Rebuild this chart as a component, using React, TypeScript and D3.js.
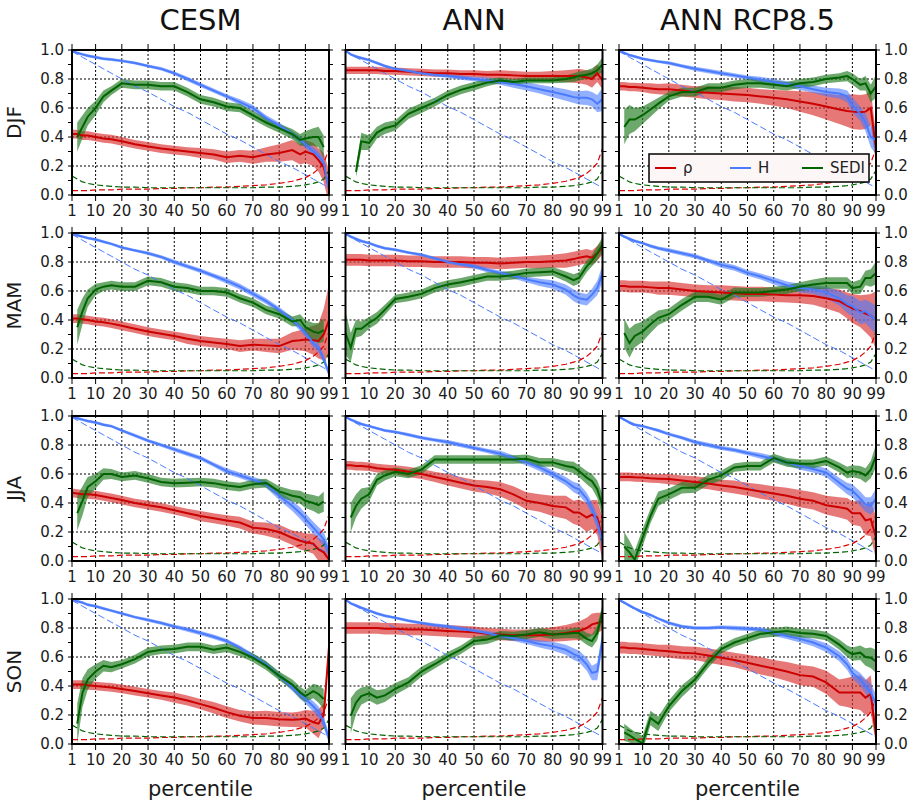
import React from "react";
import * as d3 from "d3";

const _ = null;
const PCT = [1, 3, 5, 7, 10, 13, 16, 20, 25, 30, 35, 40, 45, 50, 55, 60, 65, 70, 75, 80, 85, 88, 90, 93, 95, 97, 99];
const X_TICKS = [1, 10, 20, 30, 40, 50, 60, 70, 80, 90, 99];
const X_GRID = [10, 20, 30, 40, 50, 60, 70, 80, 90];
const Y_TICKS = [0, 0.2, 0.4, 0.6, 0.8, 1.0];
const Y_GRID = [0.2, 0.4, 0.6, 0.8];
const Y_MINOR = [0, 0.1, 0.2, 0.3, 0.4, 0.5, 0.6, 0.7, 0.8, 0.9, 1.0];
const COLUMNS = ["CESM", "ANN", "ANN RCP8.5"];
const ROWS = ["DJF", "MAM", "JJA", "SON"];
const LEGEND = ["ρ", "H", "SEDI"];

// chance baselines (dashed)
const H_CHANCE = [0.99, 0.97, 0.95, 0.93, 0.9, 0.87, 0.84, 0.8, 0.75, 0.71, 0.66, 0.61, 0.57, 0.52, 0.47, 0.42, 0.38, 0.33, 0.28, 0.23, 0.19, 0.16, 0.14, 0.11, 0.09, 0.07, 0.05];
const RHO_CHANCE = [0.03, 0.03, 0.03, 0.03, 0.035, 0.035, 0.035, 0.04, 0.04, 0.04, 0.045, 0.045, 0.05, 0.05, 0.055, 0.055, 0.06, 0.065, 0.07, 0.08, 0.095, 0.11, 0.12, 0.15, 0.18, 0.22, 0.32];
const SEDI_CHANCE = [0.13, 0.11, 0.09, 0.08, 0.07, 0.065, 0.06, 0.055, 0.055, 0.05, 0.05, 0.05, 0.05, 0.05, 0.05, 0.05, 0.05, 0.05, 0.055, 0.055, 0.06, 0.065, 0.07, 0.08, 0.09, 0.11, 0.17];

// DJF CESM
const djfCesmRho = [0.42, 0.42, 0.41, 0.41, 0.4, 0.39, 0.385, 0.37, 0.35, 0.335, 0.32, 0.31, 0.3, 0.29, 0.28, 0.26, 0.27, 0.26, 0.28, 0.29, 0.31, 0.28, 0.3, 0.28, 0.24, 0.19, 0.05];
const djfCesmRhoW = [0.03, 0.03, 0.03, 0.03, 0.03, 0.03, 0.03, 0.03, 0.03, 0.03, 0.03, 0.03, 0.03, 0.035, 0.035, 0.04, 0.04, 0.045, 0.05, 0.06, 0.07, 0.07, 0.08, 0.08, 0.08, 0.1, 0.12];
const djfCesmH = [0.995, 0.98, 0.97, 0.96, 0.95, 0.94, 0.935, 0.925, 0.91, 0.89, 0.87, 0.84, 0.8, 0.76, 0.72, 0.68, 0.64, 0.6, 0.53, 0.48, 0.42, 0.38, 0.35, 0.3, 0.27, 0.22, 0.03];
const djfCesmHW = [0.005, 0.01, 0.01, 0.01, 0.01, 0.01, 0.01, 0.01, 0.01, 0.01, 0.012, 0.012, 0.015, 0.015, 0.015, 0.015, 0.02, 0.02, 0.02, 0.02, 0.02, 0.025, 0.025, 0.03, 0.03, 0.035, 0.03];
const djfCesmSedi = [_, 0.4, 0.47, 0.54, 0.6, 0.68, 0.72, 0.77, 0.76, 0.76, 0.75, 0.75, 0.71, 0.66, 0.64, 0.61, 0.6, 0.55, 0.5, 0.46, 0.42, 0.38, 0.39, 0.4, 0.4, 0.33, _];
const djfCesmSediW = [_, 0.1, 0.08, 0.06, 0.05, 0.04, 0.03, 0.03, 0.03, 0.03, 0.03, 0.03, 0.03, 0.03, 0.03, 0.03, 0.03, 0.03, 0.03, 0.03, 0.035, 0.04, 0.05, 0.06, 0.07, 0.08, _];

// DJF ANN
const djfAnnRho = [0.86, 0.86, 0.86, 0.86, 0.86, 0.86, 0.855, 0.855, 0.85, 0.845, 0.84, 0.84, 0.835, 0.835, 0.83, 0.83, 0.825, 0.82, 0.82, 0.82, 0.82, 0.82, 0.82, 0.81, 0.8, 0.84, 0.79];
const djfAnnRhoW = [0.025, 0.025, 0.025, 0.025, 0.025, 0.025, 0.025, 0.025, 0.025, 0.025, 0.025, 0.025, 0.025, 0.025, 0.025, 0.03, 0.03, 0.03, 0.03, 0.035, 0.04, 0.045, 0.05, 0.05, 0.06, 0.06, 0.06];
const djfAnnH = [0.995, 0.97, 0.955, 0.945, 0.93, 0.91, 0.89, 0.87, 0.855, 0.84, 0.83, 0.82, 0.81, 0.8, 0.79, 0.78, 0.765, 0.75, 0.73, 0.71, 0.69, 0.675, 0.67, 0.67, 0.66, 0.63, 0.66];
const djfAnnHW = [0.005, 0.01, 0.01, 0.01, 0.01, 0.01, 0.01, 0.01, 0.01, 0.01, 0.012, 0.012, 0.015, 0.015, 0.02, 0.02, 0.025, 0.03, 0.03, 0.035, 0.04, 0.04, 0.045, 0.05, 0.05, 0.06, 0.08];
const djfAnnSedi = [_, _, 0.16, 0.37, 0.36, 0.43, 0.46, 0.48, 0.56, 0.6, 0.64, 0.69, 0.725, 0.75, 0.775, 0.79, 0.78, 0.79, 0.79, 0.79, 0.8, 0.81, 0.82, 0.83, 0.84, 0.86, 0.9];
const djfAnnSediW = [_, _, 0.04, 0.06, 0.05, 0.04, 0.04, 0.035, 0.035, 0.035, 0.03, 0.03, 0.03, 0.03, 0.025, 0.02, 0.02, 0.02, 0.02, 0.02, 0.025, 0.03, 0.03, 0.03, 0.035, 0.04, 0.05];

// DJF ANN RCP8.5
const djfRcpRho = [0.75, 0.75, 0.745, 0.745, 0.74, 0.735, 0.73, 0.73, 0.72, 0.71, 0.705, 0.7, 0.695, 0.69, 0.68, 0.67, 0.66, 0.645, 0.63, 0.61, 0.59, 0.58, 0.575, 0.57, 0.575, 0.6, 0.32];
const djfRcpRhoW = [0.03, 0.03, 0.03, 0.03, 0.03, 0.035, 0.035, 0.04, 0.04, 0.04, 0.045, 0.045, 0.05, 0.05, 0.05, 0.055, 0.06, 0.07, 0.08, 0.09, 0.1, 0.11, 0.12, 0.12, 0.12, 0.12, 0.1];
const djfRcpH = [0.995, 0.98, 0.965, 0.955, 0.94, 0.93, 0.92, 0.91, 0.89, 0.87, 0.855, 0.84, 0.825, 0.81, 0.795, 0.78, 0.765, 0.75, 0.73, 0.71, 0.7, 0.68, 0.62, 0.56, 0.5, 0.4, 0.38];
const djfRcpHW = [0.005, 0.01, 0.01, 0.01, 0.01, 0.01, 0.01, 0.012, 0.012, 0.015, 0.015, 0.015, 0.015, 0.015, 0.02, 0.02, 0.02, 0.025, 0.025, 0.03, 0.035, 0.04, 0.05, 0.05, 0.06, 0.07, 0.1];
const djfRcpSedi = [_, 0.47, 0.52, 0.52, 0.55, 0.59, 0.63, 0.68, 0.71, 0.71, 0.74, 0.74, 0.76, 0.77, 0.77, 0.76, 0.75, 0.77, 0.78, 0.8, 0.81, 0.82, 0.8, 0.76, 0.77, 0.7, 0.75];
const djfRcpSediW = [_, 0.12, 0.1, 0.08, 0.06, 0.05, 0.04, 0.03, 0.03, 0.03, 0.03, 0.03, 0.03, 0.03, 0.03, 0.03, 0.03, 0.03, 0.03, 0.03, 0.03, 0.035, 0.04, 0.04, 0.05, 0.06, 0.08];

// MAM CESM
const mamCesmRho = [0.41, 0.41, 0.405, 0.4, 0.39, 0.385, 0.375, 0.36, 0.34, 0.32, 0.305, 0.29, 0.27, 0.255, 0.245, 0.235, 0.22, 0.23, 0.225, 0.22, 0.255, 0.26, 0.265, 0.26, 0.255, 0.3, 0.4];
const mamCesmRhoW = [0.03, 0.03, 0.03, 0.03, 0.03, 0.03, 0.03, 0.03, 0.03, 0.03, 0.03, 0.03, 0.035, 0.035, 0.035, 0.035, 0.04, 0.04, 0.045, 0.05, 0.06, 0.07, 0.08, 0.1, 0.12, 0.18, 0.25];
const mamCesmH = [0.995, 0.985, 0.975, 0.965, 0.955, 0.94, 0.925, 0.9, 0.88, 0.86, 0.835, 0.8, 0.77, 0.74, 0.705, 0.67, 0.63, 0.58, 0.53, 0.47, 0.4, 0.35, 0.31, 0.24, 0.21, 0.13, 0.03];
const mamCesmHW = [0.005, 0.01, 0.01, 0.01, 0.01, 0.01, 0.01, 0.01, 0.01, 0.012, 0.012, 0.015, 0.015, 0.015, 0.015, 0.02, 0.02, 0.02, 0.02, 0.02, 0.02, 0.025, 0.025, 0.03, 0.03, 0.03, 0.02];
const mamCesmSedi = [_, 0.35, 0.46, 0.55, 0.61, 0.63, 0.64, 0.63, 0.63, 0.67, 0.66, 0.63, 0.62, 0.6, 0.6, 0.59, 0.55, 0.52, 0.47, 0.44, 0.39, 0.4, 0.35, 0.32, 0.31, 0.33, _];
const mamCesmSediW = [_, 0.12, 0.09, 0.06, 0.04, 0.03, 0.03, 0.03, 0.03, 0.03, 0.03, 0.03, 0.03, 0.03, 0.03, 0.03, 0.03, 0.03, 0.03, 0.03, 0.035, 0.04, 0.05, 0.06, 0.07, 0.08, _];

// MAM ANN
const mamAnnRho = [0.815, 0.815, 0.815, 0.815, 0.81, 0.81, 0.81, 0.81, 0.805, 0.805, 0.8, 0.8, 0.8, 0.795, 0.795, 0.79, 0.795, 0.8, 0.8, 0.805, 0.81, 0.82, 0.83, 0.84, 0.83, 0.86, 0.9];
const mamAnnRhoW = [0.04, 0.04, 0.04, 0.04, 0.04, 0.04, 0.04, 0.04, 0.04, 0.04, 0.04, 0.04, 0.04, 0.04, 0.04, 0.04, 0.04, 0.04, 0.045, 0.045, 0.05, 0.05, 0.05, 0.05, 0.05, 0.05, 0.05];
const mamAnnH = [0.995, 0.975, 0.96, 0.945, 0.93, 0.91, 0.895, 0.885, 0.865, 0.85, 0.825, 0.8, 0.785, 0.77, 0.745, 0.725, 0.705, 0.68, 0.66, 0.645, 0.61, 0.57, 0.55, 0.54, 0.575, 0.62, 0.72];
const mamAnnHW = [0.005, 0.01, 0.01, 0.01, 0.01, 0.01, 0.01, 0.01, 0.01, 0.01, 0.012, 0.012, 0.012, 0.015, 0.015, 0.015, 0.02, 0.02, 0.025, 0.03, 0.035, 0.04, 0.04, 0.04, 0.04, 0.05, 0.06];
const mamAnnSedi = [0.31, 0.21, 0.34, 0.34, 0.38, 0.415, 0.47, 0.545, 0.56, 0.58, 0.62, 0.645, 0.66, 0.68, 0.7, 0.7, 0.71, 0.725, 0.73, 0.735, 0.7, 0.675, 0.69, 0.77, 0.81, 0.86, 0.92];
const mamAnnSediW = [0.15, 0.1, 0.06, 0.05, 0.04, 0.04, 0.035, 0.03, 0.03, 0.03, 0.03, 0.03, 0.03, 0.03, 0.03, 0.03, 0.03, 0.03, 0.03, 0.03, 0.035, 0.04, 0.04, 0.04, 0.04, 0.05, 0.05];

// MAM ANN RCP8.5
const mamRcpRho = [0.635, 0.635, 0.63, 0.63, 0.63, 0.625, 0.62, 0.62, 0.61, 0.6, 0.595, 0.59, 0.585, 0.58, 0.58, 0.575, 0.57, 0.57, 0.565, 0.55, 0.53, 0.5, 0.48, 0.46, 0.445, 0.43, 0.4];
const mamRcpRhoW = [0.04, 0.04, 0.04, 0.04, 0.04, 0.04, 0.045, 0.045, 0.045, 0.045, 0.045, 0.05, 0.05, 0.05, 0.05, 0.05, 0.05, 0.055, 0.06, 0.07, 0.08, 0.09, 0.1, 0.11, 0.13, 0.15, 0.2];
const mamRcpH = [0.995, 0.975, 0.96, 0.945, 0.93, 0.91, 0.895, 0.88, 0.86, 0.84, 0.81, 0.78, 0.76, 0.725, 0.7, 0.67, 0.64, 0.62, 0.61, 0.59, 0.55, 0.51, 0.495, 0.45, 0.46, 0.43, 0.4];
const mamRcpHW = [0.005, 0.01, 0.01, 0.01, 0.01, 0.012, 0.012, 0.015, 0.015, 0.015, 0.015, 0.02, 0.02, 0.02, 0.02, 0.025, 0.025, 0.03, 0.03, 0.04, 0.05, 0.06, 0.07, 0.08, 0.08, 0.09, 0.1];
const mamRcpSedi = [_, 0.31, 0.24, 0.29, 0.32, 0.37, 0.415, 0.44, 0.505, 0.56, 0.56, 0.54, 0.59, 0.59, 0.59, 0.6, 0.61, 0.63, 0.645, 0.655, 0.655, 0.655, 0.62, 0.63, 0.69, 0.69, 0.725];
const mamRcpSediW = [_, 0.1, 0.1, 0.08, 0.07, 0.06, 0.05, 0.04, 0.04, 0.035, 0.035, 0.035, 0.035, 0.03, 0.03, 0.03, 0.03, 0.03, 0.035, 0.04, 0.04, 0.04, 0.04, 0.05, 0.05, 0.06, 0.08];

// JJA CESM
const jjaCesmRho = [0.47, 0.465, 0.46, 0.46, 0.455, 0.445, 0.435, 0.42, 0.4, 0.385, 0.37, 0.35, 0.33, 0.31, 0.295, 0.28, 0.265, 0.23, 0.22, 0.2, 0.16, 0.14, 0.13, 0.12, 0.08, 0.06, 0.01];
const jjaCesmRhoW = [0.03, 0.03, 0.03, 0.03, 0.03, 0.03, 0.03, 0.03, 0.03, 0.03, 0.03, 0.03, 0.03, 0.035, 0.035, 0.035, 0.04, 0.04, 0.045, 0.05, 0.05, 0.06, 0.06, 0.07, 0.08, 0.08, 0.06];
const jjaCesmH = [0.995, 0.985, 0.975, 0.965, 0.955, 0.94, 0.93, 0.9, 0.865, 0.83, 0.8, 0.77, 0.74, 0.71, 0.665, 0.62, 0.59, 0.56, 0.53, 0.45, 0.38, 0.33, 0.29, 0.23, 0.19, 0.15, 0.06];
const jjaCesmHW = [0.005, 0.01, 0.01, 0.01, 0.01, 0.01, 0.01, 0.01, 0.012, 0.012, 0.012, 0.015, 0.015, 0.015, 0.015, 0.02, 0.02, 0.02, 0.025, 0.03, 0.035, 0.04, 0.04, 0.04, 0.045, 0.05, 0.04];
const jjaCesmSedi = [_, 0.33, 0.415, 0.51, 0.55, 0.6, 0.6, 0.58, 0.59, 0.57, 0.545, 0.537, 0.54, 0.545, 0.537, 0.52, 0.51, 0.53, 0.537, 0.48, 0.45, 0.44, 0.415, 0.4, 0.385, 0.41, _];
const jjaCesmSediW = [_, 0.12, 0.1, 0.07, 0.05, 0.04, 0.035, 0.03, 0.03, 0.03, 0.03, 0.03, 0.03, 0.03, 0.03, 0.03, 0.03, 0.03, 0.03, 0.035, 0.04, 0.045, 0.05, 0.055, 0.06, 0.07, _];

// JJA ANN
const jjaAnnRho = [0.66, 0.66, 0.655, 0.655, 0.65, 0.64, 0.635, 0.63, 0.615, 0.6, 0.58, 0.56, 0.54, 0.52, 0.51, 0.495, 0.46, 0.415, 0.4, 0.38, 0.37, 0.335, 0.335, 0.3, 0.32, 0.3, 0.15];
const jjaAnnRhoW = [0.03, 0.03, 0.03, 0.03, 0.03, 0.03, 0.03, 0.03, 0.035, 0.035, 0.035, 0.04, 0.04, 0.04, 0.045, 0.05, 0.055, 0.06, 0.06, 0.07, 0.08, 0.08, 0.09, 0.1, 0.1, 0.12, 0.15];
const jjaAnnH = [0.995, 0.975, 0.96, 0.945, 0.93, 0.915, 0.9, 0.89, 0.87, 0.85, 0.835, 0.82, 0.8, 0.78, 0.76, 0.74, 0.71, 0.68, 0.645, 0.6, 0.55, 0.51, 0.495, 0.43, 0.36, 0.27, 0.13];
const jjaAnnHW = [0.005, 0.01, 0.01, 0.01, 0.01, 0.01, 0.01, 0.01, 0.012, 0.012, 0.012, 0.015, 0.015, 0.015, 0.015, 0.02, 0.02, 0.02, 0.025, 0.025, 0.03, 0.035, 0.04, 0.04, 0.045, 0.05, 0.05];
const jjaAnnSedi = [_, 0.3, 0.38, 0.43, 0.46, 0.56, 0.59, 0.615, 0.6, 0.63, 0.7, 0.7, 0.7, 0.7, 0.7, 0.7, 0.7, 0.705, 0.68, 0.68, 0.655, 0.645, 0.62, 0.575, 0.55, 0.495, 0.38];
const jjaAnnSediW = [_, 0.1, 0.08, 0.07, 0.05, 0.04, 0.035, 0.03, 0.03, 0.03, 0.03, 0.03, 0.03, 0.03, 0.03, 0.03, 0.03, 0.03, 0.03, 0.03, 0.035, 0.04, 0.04, 0.045, 0.05, 0.06, 0.08];

// JJA ANN RCP8.5
const jjaRcpRho = [0.58, 0.58, 0.58, 0.577, 0.575, 0.57, 0.568, 0.565, 0.555, 0.545, 0.535, 0.52, 0.51, 0.495, 0.48, 0.465, 0.45, 0.43, 0.415, 0.385, 0.37, 0.36, 0.33, 0.33, 0.28, 0.29, 0.16];
const jjaRcpRhoW = [0.03, 0.03, 0.03, 0.03, 0.03, 0.03, 0.03, 0.035, 0.035, 0.04, 0.04, 0.04, 0.045, 0.045, 0.05, 0.05, 0.055, 0.06, 0.06, 0.065, 0.07, 0.075, 0.08, 0.09, 0.1, 0.12, 0.15];
const jjaRcpH = [0.995, 0.975, 0.955, 0.94, 0.93, 0.915, 0.9, 0.875, 0.85, 0.82, 0.8, 0.78, 0.765, 0.745, 0.725, 0.705, 0.68, 0.655, 0.635, 0.61, 0.54, 0.5, 0.485, 0.43, 0.39, 0.38, 0.43];
const jjaRcpHW = [0.005, 0.01, 0.01, 0.01, 0.01, 0.01, 0.012, 0.012, 0.012, 0.015, 0.015, 0.015, 0.015, 0.015, 0.02, 0.02, 0.02, 0.025, 0.025, 0.03, 0.035, 0.04, 0.045, 0.05, 0.05, 0.06, 0.07];
const jjaRcpSedi = [_, 0.1, 0.06, 0.01, 0.16, 0.31, 0.43, 0.46, 0.505, 0.505, 0.56, 0.59, 0.645, 0.655, 0.655, 0.71, 0.68, 0.67, 0.67, 0.69, 0.645, 0.61, 0.62, 0.61, 0.59, 0.63, 0.725];
const jjaRcpSediW = [_, 0.1, 0.08, 0.06, 0.06, 0.05, 0.05, 0.04, 0.04, 0.035, 0.035, 0.035, 0.03, 0.03, 0.03, 0.03, 0.03, 0.03, 0.03, 0.03, 0.035, 0.04, 0.04, 0.045, 0.05, 0.06, 0.08];

// SON CESM
const sonCesmRho = [0.41, 0.41, 0.41, 0.405, 0.4, 0.395, 0.39, 0.38, 0.365, 0.35, 0.335, 0.32, 0.3, 0.275, 0.25, 0.22, 0.195, 0.18, 0.18, 0.17, 0.167, 0.17, 0.175, 0.15, 0.14, 0.2, 0.67];
const sonCesmRhoW = [0.03, 0.03, 0.03, 0.03, 0.03, 0.03, 0.03, 0.03, 0.03, 0.03, 0.03, 0.035, 0.035, 0.035, 0.04, 0.04, 0.04, 0.045, 0.05, 0.05, 0.05, 0.055, 0.06, 0.08, 0.1, 0.08, 0.04];
const sonCesmH = [0.995, 0.985, 0.975, 0.96, 0.95, 0.935, 0.92, 0.9, 0.875, 0.855, 0.835, 0.81, 0.79, 0.765, 0.74, 0.71, 0.665, 0.605, 0.55, 0.47, 0.39, 0.34, 0.31, 0.26, 0.22, 0.15, 0.035];
const sonCesmHW = [0.005, 0.01, 0.01, 0.01, 0.01, 0.01, 0.01, 0.01, 0.01, 0.012, 0.012, 0.012, 0.015, 0.015, 0.015, 0.015, 0.015, 0.02, 0.02, 0.02, 0.025, 0.03, 0.03, 0.035, 0.04, 0.04, 0.03];
const sonCesmSedi = [_, 0.14, 0.355, 0.445, 0.5, 0.54, 0.53, 0.55, 0.585, 0.635, 0.65, 0.655, 0.67, 0.67, 0.65, 0.665, 0.635, 0.595, 0.54, 0.47, 0.41, 0.355, 0.33, 0.365, 0.345, 0.31, _];
const sonCesmSediW = [_, 0.14, 0.1, 0.07, 0.05, 0.04, 0.035, 0.03, 0.03, 0.03, 0.03, 0.03, 0.03, 0.03, 0.03, 0.03, 0.03, 0.03, 0.03, 0.03, 0.035, 0.04, 0.04, 0.05, 0.06, 0.07, _];

// SON ANN
const sonAnnRho = [0.8, 0.8, 0.8, 0.8, 0.8, 0.8, 0.795, 0.795, 0.79, 0.79, 0.785, 0.78, 0.775, 0.77, 0.76, 0.755, 0.75, 0.75, 0.75, 0.755, 0.765, 0.775, 0.78, 0.8, 0.825, 0.835, 0.845];
const sonAnnRhoW = [0.04, 0.04, 0.04, 0.04, 0.04, 0.04, 0.04, 0.04, 0.04, 0.04, 0.04, 0.04, 0.04, 0.04, 0.04, 0.04, 0.04, 0.04, 0.045, 0.05, 0.055, 0.06, 0.065, 0.07, 0.075, 0.07, 0.06];
const sonAnnH = [0.995, 0.97, 0.955, 0.94, 0.92, 0.9, 0.885, 0.87, 0.85, 0.835, 0.82, 0.81, 0.795, 0.78, 0.765, 0.745, 0.73, 0.71, 0.69, 0.675, 0.65, 0.62, 0.605, 0.55, 0.49, 0.5, 0.72];
const sonAnnHW = [0.005, 0.01, 0.01, 0.01, 0.01, 0.01, 0.01, 0.01, 0.01, 0.01, 0.012, 0.012, 0.015, 0.015, 0.015, 0.02, 0.02, 0.02, 0.025, 0.03, 0.035, 0.04, 0.04, 0.045, 0.05, 0.06, 0.06];
const sonAnnSedi = [_, 0.195, 0.285, 0.33, 0.35, 0.32, 0.335, 0.38, 0.425, 0.5, 0.55, 0.605, 0.65, 0.71, 0.72, 0.75, 0.745, 0.755, 0.77, 0.755, 0.76, 0.765, 0.765, 0.725, 0.71, 0.765, 0.915];
const sonAnnSediW = [_, 0.12, 0.08, 0.06, 0.05, 0.05, 0.045, 0.04, 0.035, 0.035, 0.03, 0.03, 0.03, 0.03, 0.03, 0.03, 0.03, 0.03, 0.03, 0.03, 0.03, 0.035, 0.04, 0.04, 0.045, 0.05, 0.05];

// SON ANN RCP8.5
const sonRcpRho = [0.665, 0.665, 0.66, 0.66, 0.655, 0.65, 0.645, 0.64, 0.63, 0.625, 0.61, 0.595, 0.58, 0.56, 0.54, 0.52, 0.5, 0.475, 0.465, 0.425, 0.355, 0.355, 0.355, 0.355, 0.32, 0.345, 0.06];
const sonRcpRhoW = [0.04, 0.04, 0.04, 0.04, 0.04, 0.04, 0.04, 0.045, 0.045, 0.045, 0.05, 0.05, 0.05, 0.055, 0.06, 0.06, 0.065, 0.07, 0.07, 0.08, 0.09, 0.1, 0.11, 0.12, 0.12, 0.13, 0.06];
const sonRcpH = [0.995, 0.975, 0.955, 0.935, 0.91, 0.89, 0.865, 0.835, 0.81, 0.8, 0.8, 0.805, 0.8, 0.795, 0.79, 0.765, 0.745, 0.725, 0.7, 0.665, 0.605, 0.55, 0.49, 0.445, 0.4, 0.355, 0.275];
const sonRcpHW = [0.005, 0.01, 0.01, 0.01, 0.01, 0.01, 0.01, 0.012, 0.012, 0.012, 0.012, 0.012, 0.015, 0.015, 0.015, 0.02, 0.02, 0.025, 0.025, 0.03, 0.035, 0.04, 0.04, 0.045, 0.05, 0.06, 0.07];
const sonRcpSedi = [_, 0.08, 0.06, 0.035, 0.005, 0.18, 0.14, 0.26, 0.365, 0.445, 0.56, 0.655, 0.7, 0.73, 0.76, 0.77, 0.78, 0.765, 0.76, 0.745, 0.685, 0.64, 0.62, 0.63, 0.6, 0.595, 0.57];
const sonRcpSediW = [_, 0.06, 0.05, 0.05, 0.05, 0.05, 0.05, 0.04, 0.04, 0.035, 0.035, 0.03, 0.03, 0.03, 0.03, 0.03, 0.03, 0.03, 0.03, 0.03, 0.035, 0.04, 0.045, 0.05, 0.06, 0.07, 0.08];

const PANELS = [
  [
    { rho: djfCesmRho, rhoW: djfCesmRhoW, h: djfCesmH, hW: djfCesmHW, s: djfCesmSedi, sW: djfCesmSediW },
    { rho: djfAnnRho, rhoW: djfAnnRhoW, h: djfAnnH, hW: djfAnnHW, s: djfAnnSedi, sW: djfAnnSediW },
    { rho: djfRcpRho, rhoW: djfRcpRhoW, h: djfRcpH, hW: djfRcpHW, s: djfRcpSedi, sW: djfRcpSediW },
  ],
  [
    { rho: mamCesmRho, rhoW: mamCesmRhoW, h: mamCesmH, hW: mamCesmHW, s: mamCesmSedi, sW: mamCesmSediW },
    { rho: mamAnnRho, rhoW: mamAnnRhoW, h: mamAnnH, hW: mamAnnHW, s: mamAnnSedi, sW: mamAnnSediW },
    { rho: mamRcpRho, rhoW: mamRcpRhoW, h: mamRcpH, hW: mamRcpHW, s: mamRcpSedi, sW: mamRcpSediW },
  ],
  [
    { rho: jjaCesmRho, rhoW: jjaCesmRhoW, h: jjaCesmH, hW: jjaCesmHW, s: jjaCesmSedi, sW: jjaCesmSediW },
    { rho: jjaAnnRho, rhoW: jjaAnnRhoW, h: jjaAnnH, hW: jjaAnnHW, s: jjaAnnSedi, sW: jjaAnnSediW },
    { rho: jjaRcpRho, rhoW: jjaRcpRhoW, h: jjaRcpH, hW: jjaRcpHW, s: jjaRcpSedi, sW: jjaRcpSediW },
  ],
  [
    { rho: sonCesmRho, rhoW: sonCesmRhoW, h: sonCesmH, hW: sonCesmHW, s: sonCesmSedi, sW: sonCesmSediW },
    { rho: sonAnnRho, rhoW: sonAnnRhoW, h: sonAnnH, hW: sonAnnHW, s: sonAnnSedi, sW: sonAnnSediW },
    { rho: sonRcpRho, rhoW: sonRcpRhoW, h: sonRcpH, hW: sonRcpHW, s: sonRcpSedi, sW: sonRcpSediW },
  ],
];

const W = 257;
const H = 145;
const COL_X = [72, 345.5, 619];
const ROW_Y = [50, 233, 416, 599];
const FONT = "'DejaVu Sans', sans-serif";

const RED = "#cc0000";
const RED_FILL = "#d93030";
const BLUE = "#4a7bff";
const BLUE_FILL = "#4a7bff";
const GREEN = "#006400";
const GREEN_FILL = "#1f7a1f";

const x = d3.scaleLinear().domain([1, 99]).range([0, W]);
const y = d3.scaleLinear().domain([0, 1]).range([H, 0]);

function linePath(vals: (number | null)[]) {
  return d3
    .line<number | null>()
    .defined((v) => v != null)
    .x((_v, i) => x(PCT[i]))
    .y((v) => y(v as number))(vals) || "";
}
function areaPath(vals: (number | null)[], w: (number | null)[]) {
  return d3
    .area<number | null>()
    .defined((v, i) => v != null && w[i] != null)
    .x((_v, i) => x(PCT[i]))
    .y0((v, i) => y((v as number) - (w[i] as number)))
    .y1((v, i) => y((v as number) + (w[i] as number)))(vals) || "";
}

function Panel({ r, c }: { r: number; c: number }) {
  const d = PANELS[r][c];
  const id = `clip-${r}-${c}`;
  return (
    <g transform={`translate(${COL_X[c]},${ROW_Y[r]})`}>
      <defs>
        <clipPath id={id}>
          <rect x={0} y={0} width={W} height={H} />
        </clipPath>
      </defs>
      <rect x={0} y={0} width={W} height={H} fill="white" />
      {X_GRID.map((t) => (
        <line key={"gx" + t} x1={x(t)} x2={x(t)} y1={0} y2={H} stroke="black" strokeWidth={1} strokeDasharray="2,2" />
      ))}
      {Y_GRID.map((t) => (
        <line key={"gy" + t} x1={0} x2={W} y1={y(t)} y2={y(t)} stroke="black" strokeWidth={1} strokeDasharray="2,2" />
      ))}
      <g clipPath={`url(#${id})`}>
        <path d={areaPath(d.rho, d.rhoW)} fill={RED_FILL} fillOpacity={0.65} />
        <path d={areaPath(d.h, d.hW)} fill={BLUE_FILL} fillOpacity={0.6} />
        <path d={areaPath(d.s, d.sW)} fill={GREEN_FILL} fillOpacity={0.65} />
        <path d={linePath(H_CHANCE)} fill="none" stroke={BLUE} strokeWidth={1} strokeDasharray="7,3" />
        <path d={linePath(RHO_CHANCE)} fill="none" stroke="#dd0000" strokeWidth={1.2} strokeDasharray="6,3" />
        <path d={linePath(SEDI_CHANCE)} fill="none" stroke={GREEN} strokeWidth={1.2} strokeDasharray="6,3" />
        <path d={linePath(d.rho)} fill="none" stroke={RED} strokeWidth={2} />
        <path d={linePath(d.h)} fill="none" stroke={BLUE} strokeWidth={2} />
        <path d={linePath(d.s)} fill="none" stroke={GREEN} strokeWidth={2} />
      </g>
      {Y_MINOR.map((t, i) => (
        <g key={"ty" + i}>
          <line x1={-4} x2={0} y1={y(t)} y2={y(t)} stroke="black" strokeWidth={1} />
          <line x1={W} x2={W + 4} y1={y(t)} y2={y(t)} stroke="black" strokeWidth={1} />
        </g>
      ))}
      {X_TICKS.map((t) => (
        <g key={"tx" + t}>
          <line x1={x(t)} x2={x(t)} y1={-6} y2={0} stroke="black" strokeWidth={1} />
          <line x1={x(t)} x2={x(t)} y1={H} y2={H + 6} stroke="black" strokeWidth={1} />
        </g>
      ))}
      <rect x={0} y={0} width={W} height={H} fill="none" stroke="black" strokeWidth={2} />
      {X_TICKS.map((t) => (
        <text key={"lx" + t} x={x(t)} y={H + 21} textAnchor="middle" fontSize={15} fontFamily={FONT} fill="#1a1a1a">
          {t}
        </text>
      ))}
      {c === 0 &&
        Y_TICKS.map((t) => (
          <text key={"ly" + t} x={-8} y={y(t)} dy="0.36em" textAnchor="end" fontSize={15} fontFamily={FONT} fill="#1a1a1a">
            {t.toFixed(1)}
          </text>
        ))}
      {c === 2 &&
        Y_TICKS.map((t) => (
          <text key={"ry" + t} x={W + 8} y={y(t)} dy="0.36em" textAnchor="start" fontSize={15} fontFamily={FONT} fill="#1a1a1a">
            {t.toFixed(1)}
          </text>
        ))}
      {c === 0 && (
        <text
          transform={`translate(${-51},${H / 2}) rotate(-90)`}
          textAnchor="middle"
          fontSize={20}
          fontFamily={FONT}
          fill="#1a1a1a"
        >
          {ROWS[r]}
        </text>
      )}
      {r === 0 && (
        <text x={W / 2} y={-20} textAnchor="middle" fontSize={29} fontFamily={FONT} fill="#111">
          {COLUMNS[c]}
        </text>
      )}
      {r === 3 && (
        <text x={W / 2} y={H + 52} textAnchor="middle" fontSize={21} fontFamily={FONT} fill="#1a1a1a">
          percentile
        </text>
      )}
      {r === 0 && c === 2 && <Legend />}
    </g>
  );
}

function Legend() {
  const colors = [RED, BLUE, GREEN];
  const lx = [36, 111, 183];
  return (
    <g transform="translate(30,104)">
      <rect x={0} y={0} width={220} height={28} fill="#fdf6f6" stroke="black" strokeWidth={1.5} />
      {LEGEND.map((name, i) => (
        <g key={name}>
          <line x1={lx[i] - 30} x2={lx[i] - 9} y1={14} y2={14} stroke={colors[i]} strokeWidth={2} />
          <text x={lx[i] - 2} y={14} dy="0.36em" fontSize={15} fontFamily={FONT} fill="#222">
            {name}
          </text>
        </g>
      ))}
    </g>
  );
}

export default function App() {
  return (
    <svg
      width={911}
      height={805}
      style={{ position: "absolute", left: 0, top: 0, background: "white" }}
      xmlns="http://www.w3.org/2000/svg"
    >
      <rect x={0} y={0} width={911} height={805} fill="white" />
      {ROWS.map((_r, r) => COLUMNS.map((_c, c) => <Panel key={`${r}-${c}`} r={r} c={c} />))}
    </svg>
  );
}
